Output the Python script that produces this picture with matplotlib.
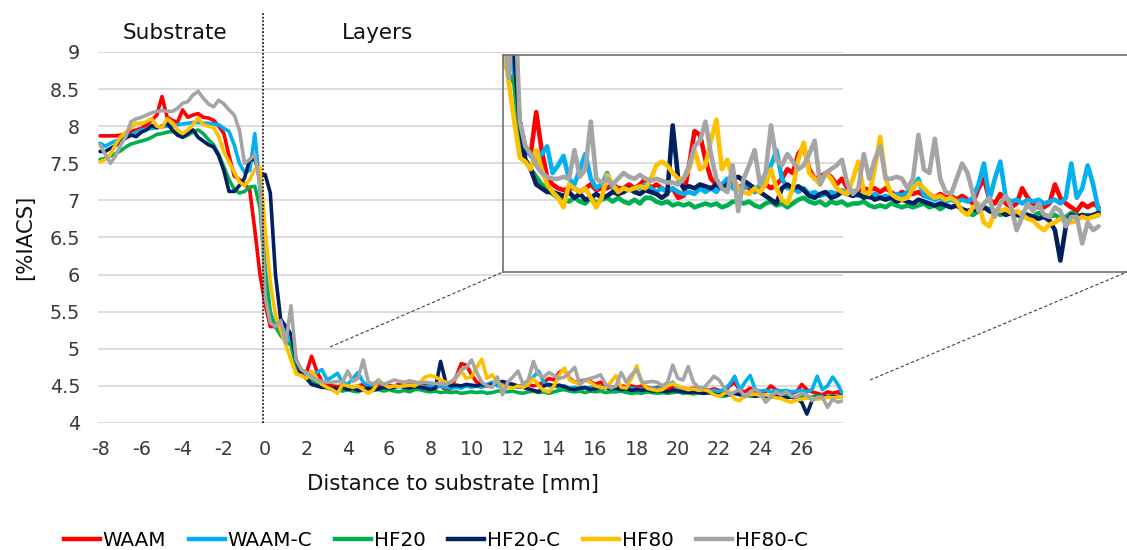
import numpy as np
import matplotlib
matplotlib.use("Agg")
import matplotlib.pyplot as plt
from matplotlib.lines import Line2D

# Sampling positions along the build direction [mm] (substrate < 0 < layers)
DISTANCE = np.round(np.arange(-8.0, 28.0001, 0.25), 2)

WAAM = [
    7.87, 7.87, 7.87, 7.87,   # -8
    7.88, 7.90, 7.93, 7.95,   # -7
    7.97, 8.02, 8.08, 8.15,   # -6
    8.40, 8.12, 8.08, 8.05,   # -5
    8.22, 8.12, 8.15, 8.17,   # -4
    8.12, 8.11, 8.08, 8.00,   # -3
    7.90, 7.60, 7.33, 7.28,   # -2
    7.22, 7.15, 6.60, 6.00,   # -1
    5.60, 5.30, 5.30, 5.38,   # 0
    5.30, 5.12, 4.80, 4.69,   # 1
    4.68, 4.90, 4.70, 4.56,   # 2
    4.52, 4.50, 4.49, 4.50,   # 3
    4.50, 4.48, 4.50, 4.52,   # 4
    4.49, 4.50, 4.50, 4.52,   # 5
    4.50, 4.50, 4.52, 4.50,   # 6
    4.52, 4.55, 4.50, 4.52,   # 7
    4.50, 4.48, 4.50, 4.45,   # 8
    4.46, 4.62, 4.80, 4.78,   # 9
    4.65, 4.55, 4.52, 4.50,   # 10
    4.52, 4.55, 4.50, 4.52,   # 11
    4.50, 4.48, 4.50, 4.52,   # 12
    4.50, 4.52, 4.55, 4.60,   # 13
    4.58, 4.68, 4.72, 4.60,   # 14
    4.55, 4.56, 4.58, 4.56,   # 15
    4.52, 4.55, 4.50, 4.48,   # 16
    4.49, 4.50, 4.49, 4.50,   # 17
    4.48, 4.50, 4.48, 4.46,   # 18
    4.48, 4.47, 4.47, 4.48,   # 19
    4.46, 4.47, 4.45, 4.47,   # 20
    4.45, 4.46, 4.44, 4.46,   # 21
    4.44, 4.42, 4.50, 4.55,   # 22
    4.44, 4.42, 4.47, 4.42,   # 23
    4.40, 4.42, 4.50, 4.45,   # 24
    4.42, 4.40, 4.40, 4.42,   # 25
    4.52, 4.45, 4.42, 4.40,   # 26
    4.38, 4.42, 4.40, 4.42,   # 27
    4.40,
]

WAAM_C = [
    7.77, 7.73, 7.77, 7.80,   # -8
    7.82, 7.85, 7.88, 7.92,   # -7
    7.95, 7.96, 7.97, 7.98,   # -6
    7.99, 8.00, 8.00, 8.02,   # -5
    8.03, 8.04, 8.05, 8.05,   # -4
    8.04, 8.04, 8.03, 8.02,   # -3
    7.97, 7.93, 7.75, 7.50,   # -2
    7.38, 7.40, 7.90, 7.15,   # -1
    6.10, 5.50, 5.30, 5.20,   # 0
    5.25, 5.10, 4.85, 4.72,   # 1
    4.67, 4.65, 4.68, 4.72,   # 2
    4.58, 4.62, 4.67, 4.55,   # 3
    4.52, 4.60, 4.68, 4.55,   # 4
    4.50, 4.52, 4.58, 4.50,   # 5
    4.48, 4.50, 4.49, 4.50,   # 6
    4.50, 4.52, 4.50, 4.48,   # 7
    4.50, 4.48, 4.50, 4.48,   # 8
    4.47, 4.48, 4.47, 4.50,   # 9
    4.48, 4.50, 4.48, 4.52,   # 10
    4.55, 4.50, 4.49, 4.50,   # 11
    4.52, 4.48, 4.52, 4.55,   # 12
    4.62, 4.70, 4.55, 4.50,   # 13
    4.50, 4.48, 4.50, 4.47,   # 14
    4.48, 4.46, 4.47, 4.48,   # 15
    4.47, 4.49, 4.47, 4.48,   # 16
    4.46, 4.47, 4.45, 4.47,   # 17
    4.45, 4.46, 4.45, 4.47,   # 18
    4.46, 4.48, 4.50, 4.55,   # 19
    4.46, 4.45, 4.44, 4.45,   # 20
    4.43, 4.44, 4.43, 4.44,   # 21
    4.43, 4.45, 4.52, 4.63,   # 22
    4.44, 4.55, 4.64, 4.45,   # 23
    4.43, 4.44, 4.42, 4.44,   # 24
    4.43, 4.44, 4.42, 4.43,   # 25
    4.44, 4.42, 4.45, 4.63,   # 26
    4.45, 4.50, 4.62, 4.52,   # 27
    4.38,
]

HF20 = [
    7.55, 7.57, 7.60, 7.63,   # -8
    7.67, 7.72, 7.76, 7.78,   # -7
    7.80, 7.82, 7.85, 7.89,   # -6
    7.90, 7.92, 7.93, 7.90,   # -5
    7.85, 7.88, 7.92, 7.95,   # -4
    7.90, 7.82, 7.75, 7.62,   # -3
    7.45, 7.28, 7.15, 7.10,   # -2
    7.12, 7.18, 7.19, 6.90,   # -1
    6.00, 5.45, 5.30, 5.18,   # 0
    5.10, 5.05, 4.76, 4.65,   # 1
    4.60, 4.56, 4.52, 4.50,   # 2
    4.47, 4.45, 4.45, 4.43,   # 3
    4.45, 4.43, 4.42, 4.45,   # 4
    4.42, 4.44, 4.45, 4.43,   # 5
    4.45, 4.43, 4.42, 4.44,   # 6
    4.42, 4.45, 4.45, 4.43,   # 7
    4.42, 4.43, 4.41, 4.42,   # 8
    4.41, 4.42, 4.40, 4.41,   # 9
    4.42, 4.41, 4.42, 4.40,   # 10
    4.41, 4.43, 4.43, 4.42,   # 11
    4.43, 4.41, 4.40, 4.42,   # 12
    4.43, 4.41, 4.42, 4.40,   # 13
    4.42, 4.44, 4.45, 4.43,   # 14
    4.42, 4.43, 4.41, 4.43,   # 15
    4.42, 4.43, 4.41, 4.42,   # 16
    4.42, 4.43, 4.41, 4.40,   # 17
    4.41, 4.40, 4.42, 4.41,   # 18
    4.40, 4.41, 4.40, 4.41,   # 19
    4.42, 4.40, 4.41, 4.39,   # 20
    4.41, 4.40, 4.41, 4.39,   # 21
    4.37, 4.36, 4.38, 4.40,   # 22
    4.39, 4.38, 4.36, 4.37,   # 23
    4.38, 4.36, 4.37, 4.36,   # 24
    4.35, 4.37, 4.36, 4.35,   # 25
    4.36, 4.34, 4.35, 4.37,   # 26
    4.36, 4.35, 4.36, 4.35,   # 27
    4.36,
]

HF20_C = [
    7.66, 7.66, 7.70, 7.74,   # -8
    7.80, 7.84, 7.88, 7.86,   # -7
    7.92, 7.95, 8.01, 7.98,   # -6
    8.00, 8.04, 7.95, 7.88,   # -5
    7.85, 7.90, 7.95, 7.85,   # -4
    7.80, 7.75, 7.72, 7.60,   # -3
    7.40, 7.12, 7.12, 7.20,   # -2
    7.30, 7.55, 7.55, 7.33,   # -1
    7.35, 7.10, 6.00, 5.40,   # 0
    5.30, 5.20, 4.85, 4.65,   # 1
    4.60, 4.52, 4.50, 4.48,   # 2
    4.48, 4.47, 4.46, 4.48,   # 3
    4.45, 4.47, 4.44, 4.45,   # 4
    4.47, 4.45, 4.46, 4.48,   # 5
    4.47, 4.48, 4.50, 4.48,   # 6
    4.47, 4.49, 4.48, 4.47,   # 7
    4.45, 4.47, 4.83, 4.55,   # 8
    4.50, 4.51, 4.50, 4.52,   # 9
    4.51, 4.50, 4.52, 4.50,   # 10
    4.52, 4.55, 4.56, 4.54,   # 11
    4.52, 4.50, 4.48, 4.46,   # 12
    4.44, 4.42, 4.50, 4.52,   # 13
    4.50, 4.51, 4.49, 4.46,   # 14
    4.45, 4.47, 4.48, 4.45,   # 15
    4.46, 4.48, 4.47, 4.46,   # 16
    4.47, 4.45, 4.46, 4.44,   # 17
    4.45, 4.44, 4.45, 4.43,   # 18
    4.44, 4.43, 4.42, 4.44,   # 19
    4.43, 4.42, 4.41, 4.42,   # 20
    4.41, 4.40, 4.41, 4.39,   # 21
    4.38, 4.39, 4.38, 4.40,   # 22
    4.38, 4.37, 4.38, 4.36,   # 23
    4.37, 4.36, 4.35, 4.36,   # 24
    4.35, 4.34, 4.35, 4.33,   # 25
    4.28, 4.12, 4.30, 4.36,   # 26
    4.35, 4.36, 4.35, 4.36,   # 27
    4.37,
]

HF80 = [
    7.52, 7.55, 7.62, 7.75,   # -8
    7.86, 7.92, 7.98, 8.04,   # -7
    8.04, 8.06, 8.10, 8.00,   # -6
    7.98, 8.10, 8.05, 7.95,   # -5
    7.90, 7.95, 8.02, 8.11,   # -4
    8.02, 8.00, 7.98, 7.86,   # -3
    7.65, 7.52, 7.38, 7.25,   # -2
    7.20, 7.28, 7.42, 7.45,   # -1
    6.60, 5.90, 5.45, 5.25,   # 0
    5.05, 4.85, 4.66, 4.64,   # 1
    4.60, 4.70, 4.60, 4.52,   # 2
    4.48, 4.45, 4.40, 4.52,   # 3
    4.50, 4.48, 4.50, 4.45,   # 4
    4.40, 4.45, 4.57, 4.52,   # 5
    4.48, 4.50, 4.49, 4.50,   # 6
    4.51, 4.50, 4.55, 4.62,   # 7
    4.64, 4.62, 4.58, 4.55,   # 8
    4.55, 4.60, 4.70, 4.60,   # 9
    4.62, 4.75, 4.86, 4.60,   # 10
    4.65, 4.55, 4.50, 4.48,   # 11
    4.47, 4.50, 4.48, 4.52,   # 12
    4.60, 4.50, 4.44, 4.42,   # 13
    4.50, 4.65, 4.74, 4.58,   # 14
    4.55, 4.52, 4.58, 4.55,   # 15
    4.50, 4.48, 4.47, 4.55,   # 16
    4.64, 4.48, 4.47, 4.60,   # 17
    4.77, 4.55, 4.47, 4.45,   # 18
    4.44, 4.45, 4.50, 4.53,   # 19
    4.50, 4.47, 4.45, 4.46,   # 20
    4.44, 4.45, 4.43, 4.38,   # 21
    4.36, 4.40, 4.42, 4.32,   # 22
    4.30, 4.38, 4.38, 4.39,   # 23
    4.37, 4.38, 4.36, 4.34,   # 24
    4.33, 4.30, 4.28, 4.31,   # 25
    4.32, 4.34, 4.33, 4.32,   # 26
    4.33, 4.35, 4.34, 4.35,   # 27
    4.36,
]

HF80_C = [
    7.75, 7.62, 7.50, 7.60,   # -8
    7.75, 7.86, 8.06, 8.10,   # -7
    8.12, 8.15, 8.18, 8.20,   # -6
    8.21, 8.20, 8.20, 8.24,   # -5
    8.31, 8.33, 8.42, 8.47,   # -4
    8.38, 8.30, 8.26, 8.35,   # -3
    8.30, 8.22, 8.15, 7.95,   # -2
    7.50, 7.55, 7.62, 7.20,   # -1
    5.70, 5.35, 5.30, 5.38,   # 0
    5.08, 5.58, 4.85, 4.72,   # 1
    4.68, 4.62, 4.58, 4.56,   # 2
    4.55, 4.55, 4.56, 4.55,   # 3
    4.70, 4.56, 4.60, 4.85,   # 4
    4.55, 4.53, 4.55, 4.52,   # 5
    4.55, 4.58, 4.56, 4.55,   # 6
    4.57, 4.55, 4.54, 4.55,   # 7
    4.54, 4.53, 4.53, 4.52,   # 8
    4.55, 4.62, 4.72, 4.75,   # 9
    4.85, 4.68, 4.55, 4.50,   # 10
    4.48, 4.62, 4.38, 4.55,   # 11
    4.62, 4.70, 4.52, 4.58,   # 12
    4.83, 4.65, 4.62, 4.68,   # 13
    4.64, 4.60, 4.62, 4.68,   # 14
    4.75, 4.52, 4.58, 4.60,   # 15
    4.62, 4.65, 4.52, 4.47,   # 16
    4.50, 4.68, 4.55, 4.65,   # 17
    4.72, 4.55, 4.55, 4.56,   # 18
    4.55, 4.50, 4.55, 4.78,   # 19
    4.60, 4.58, 4.76, 4.55,   # 20
    4.48, 4.47, 4.55, 4.63,   # 21
    4.58, 4.47, 4.38, 4.42,   # 22
    4.45, 4.35, 4.42, 4.46,   # 23
    4.40, 4.28, 4.35, 4.42,   # 24
    4.38, 4.42, 4.36, 4.35,   # 25
    4.40, 4.38, 4.30, 4.35,   # 26
    4.35, 4.21, 4.32, 4.28,   # 27
    4.30,
]

SERIES = ["WAAM", "WAAM-C", "HF20", "HF20-C", "HF80", "HF80-C"]
VALUES = [WAAM, WAAM_C, HF20, HF20_C, HF80, HF80_C]
COLORS = ["#FF0000", "#00B0F0", "#00B050", "#002060", "#FFC000", "#A5A5A5"]

X_TICKS = list(range(-8, 27, 2))
Y_TICKS = [4, 4.5, 5, 5.5, 6, 6.5, 7, 7.5, 8, 8.5, 9]
Y_TICK_LABELS = ["4", "4.5", "5", "5.5", "6", "6.5", "7", "7.5", "8", "8.5", "9"]

plt.rcParams["font.family"] = ["DejaVu Sans"]

W, H = 1127, 550
fig = plt.figure(figsize=(W / 100, H / 100), dpi=100)


def fx(px):
    return px / W


def fy(py):
    return 1 - py / H


# ---- main axes -------------------------------------------------------------
ax = fig.add_axes([fx(98), fy(423), fx(843) - fx(98), fy(52) - fy(423)])
for vals, col in zip(VALUES, COLORS):
    ax.plot(DISTANCE, vals, color=col, lw=2.6, solid_joinstyle="round",
            solid_capstyle="round")
ax.set_xlim(-8.1, 28.0)
ax.set_ylim(4, 9)
ax.set_xticks(X_TICKS)
ax.set_xticklabels([str(t) for t in X_TICKS])
ax.set_yticks(Y_TICKS)
ax.set_yticklabels(Y_TICK_LABELS)
ax.tick_params(axis="both", length=0, labelsize=13.8, colors="#3a3a3a")
ax.tick_params(axis="x", pad=12)
ax.tick_params(axis="y", pad=13)
ax.yaxis.grid(True, color="#D9D9D9", lw=1.3)
ax.set_axisbelow(True)
for s in ax.spines.values():
    s.set_visible(False)

# substrate / layer boundary
ax.plot([-0.12, -0.12], [4, 9.53], color="#222222", lw=1.3,
        linestyle=(0, (1, 1)), clip_on=False, zorder=5)

# ---- magnified view of the layers ------------------------------------------
ins = fig.add_axes([fx(503), fy(272), fx(1127) - fx(503), fy(55) - fy(272)])
ins.set_facecolor("none")
for vals, col in zip(VALUES, COLORS):
    ins.plot(DISTANCE, vals, color=col, lw=3.3, solid_joinstyle="round",
             solid_capstyle="round")
ins.set_xlim(0.73, 29.3)
ins.set_ylim(4.06, 5.2)
ins.set_xticks([])
ins.set_yticks([])
for name, s in ins.spines.items():
    if name == "right":
        s.set_visible(False)
    else:
        s.set_color("#707070")
        s.set_linewidth(1.2)
        s.set_linestyle((0, (1, 1)))

# connector lines between the layer region and the magnified view
for (x0, y0), (x1, y1) in [((330, 347), (503, 272)), ((870, 380), (1127, 272))]:
    fig.add_artist(Line2D([fx(x0), fx(x1)], [fy(y0), fy(y1)],
                          transform=fig.transFigure, color="#404040",
                          lw=0.8, linestyle=(0, (3, 2))))

# ---- labels ------------------------------------------------------------------
fig.text(fx(175), fy(33), "Substrate", ha="center", va="center",
         fontsize=15.5, color="#111111")
fig.text(fx(378), fy(33), "Layers", ha="center", va="center",
         fontsize=15.5, color="#111111")
fig.text(fx(453), fy(484), "Distance to substrate [mm]", ha="center",
         va="center", fontsize=15.3, color="#111111")
fig.text(fx(25), fy(237), "[%IACS]", ha="center", va="center",
         rotation=90, fontsize=15.3, color="#111111")

handles = [Line2D([], [], color=c, lw=3.2) for c in COLORS]
fig.legend(handles, SERIES, loc="center", bbox_to_anchor=(fx(436), fy(540)),
           ncol=6, frameon=False, fontsize=14.3, handlelength=1.8,
           handletextpad=0.15, columnspacing=1.15, borderpad=0,
           borderaxespad=0)

fig.savefig("out.png", dpi=100)
